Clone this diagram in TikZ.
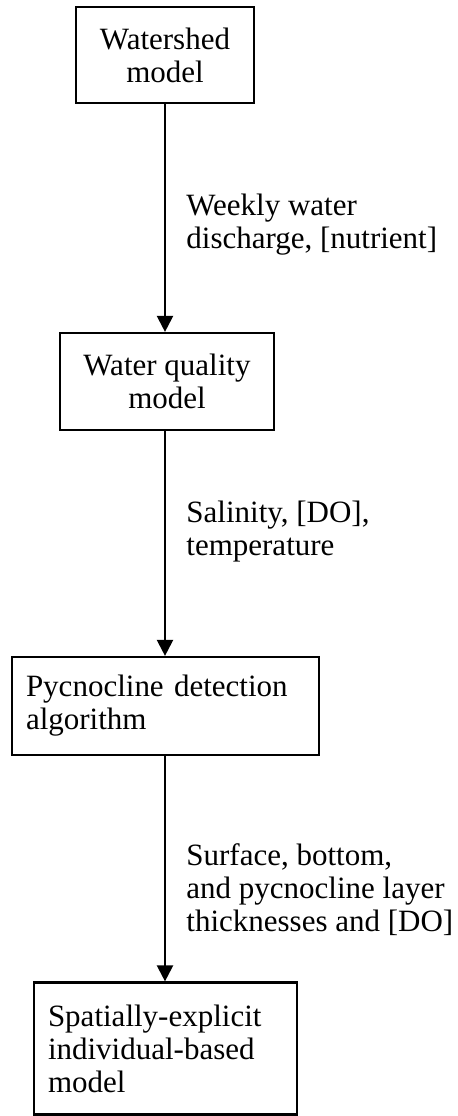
\documentclass[tikz,border=0pt]{standalone}
\usepackage{fontspec}
\setmainfont{Liberation Serif}
\usetikzlibrary{arrows.meta}
\tikzset{
  box/.style={draw, line width=1.1pt, inner xsep=7pt, inner ysep=0pt, font=\fontsize{15.5}{16.5}\selectfont},
  flow/.style={line width=1.1pt, -{Triangle[width=8pt,length=8pt]}},
  lbl/.style={anchor=west, align=left, inner sep=0pt, font=\fontsize{15.5}{16.5}\selectfont}
}
\begin{document}
\begin{tikzpicture}[x=0.5pt,y=-0.5pt]
\useasboundingbox (0,0) rectangle (457,1116);
\node[box, align=center, minimum width=89pt, minimum height=48pt] (shed) at (165,55) {Watershed\\model};
\node[box, align=center, minimum width=107pt, minimum height=48.5pt] (wq) at (167,381.5) {Water quality\\model};
\node[box, align=left, text width=139.5pt, minimum height=49pt] (pyc) at (165.5,706) {Pycnocline detection\\algorithm};
\node[box, align=left, text width=117.5pt, minimum height=66pt] (ibm) at (165.5,1048.5) {Spatially-explicit\\individual-based\\model};
\draw[flow] (shed.south -| 165,0) -- (wq.north -| 165,0);
\draw[flow] (wq.south -| 165,0) -- (pyc.north -| 165,0);
\draw[flow] (pyc.south -| 165,0) -- (ibm.north -| 165,0);
\node[lbl] (l1) at (186,225) {Weekly water\\discharge, [nutrient]};
\node[lbl] (l2) at (186,532) {Salinity, [DO],\\temperature};
\node[lbl] (l3) at (186,890) {Surface, bottom,\\and pycnocline layer\\thicknesses and [DO]};
\end{tikzpicture}
\end{document}
